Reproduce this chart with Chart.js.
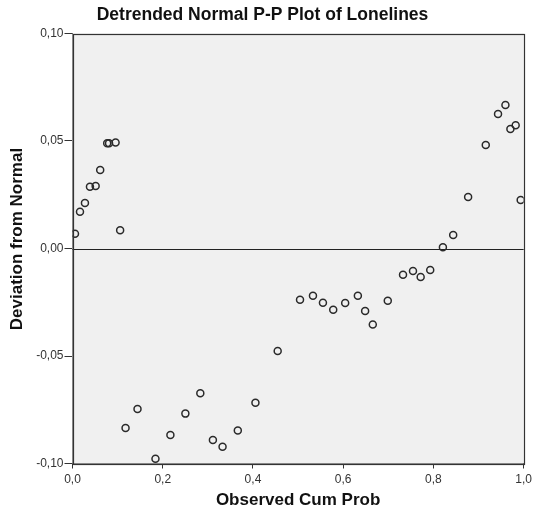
<!DOCTYPE html>
<html>
<head>
<meta charset="utf-8">
<script src="https://cdn.jsdelivr.net/npm/chart.js@4"></script>
<style>
  html, body { margin: 0; padding: 0; background: #ffffff; }
  #wrap { width: 536px; height: 512px; position: relative; }
</style>
</head>
<body>
<div id="wrap"><canvas id="c" width="536" height="512"></canvas></div>
<script>
const chartTitle = "Detrended Normal P-P Plot of Lonelines";
const xTitle = "Observed Cum Prob";
const yTitle = "Deviation from Normal";

const obsCumProb = [
  0.0055, 0.0166, 0.0276, 0.0387, 0.0513, 0.0614, 0.0769, 0.0810, 0.0955, 0.1056,
  0.1176, 0.1441, 0.1839, 0.2170, 0.2502, 0.2833, 0.3112, 0.3326, 0.3664, 0.4055,
  0.4548, 0.5043, 0.5330, 0.5551, 0.5779, 0.6044, 0.6325, 0.6486, 0.6656, 0.6988,
  0.7326, 0.7547, 0.7717, 0.7929, 0.8210, 0.8438, 0.8769, 0.9160, 0.9432, 0.9596,
  0.9706, 0.9823, 0.9934
];
const deviation = [
  0.0069, 0.0171, 0.0212, 0.0287, 0.0291, 0.0365, 0.0489, 0.0489, 0.0493, 0.0085,
  -0.0835, -0.0747, -0.0978, -0.0867, -0.0768, -0.0673, -0.0891, -0.0922, -0.0846, -0.0717,
  -0.0477, -0.0238, -0.0220, -0.0252, -0.0285, -0.0253, -0.0220, -0.0291, -0.0353, -0.0243,
  -0.0122, -0.0105, -0.0133, -0.0100, 0.0006, 0.0063, 0.0240, 0.0481, 0.0626, 0.0667,
  0.0556, 0.0573, 0.0226
];
const xTicks = [0.0, 0.2, 0.4, 0.6, 0.8, 1.0];
const yTicks = [-0.10, -0.05, 0.00, 0.05, 0.10];

const points = obsCumProb.map((x, i) => ({ x: x, y: deviation[i] }));
const FONT = 'Liberation Sans, Arial, sans-serif';

const frame = {
  id: 'frame',
  beforeDatasetsDraw(chart) {
    const { ctx, chartArea: a } = chart;
    ctx.save();
    ctx.fillStyle = '#f0f0f0';
    ctx.fillRect(a.left, a.top, a.right - a.left, a.bottom - a.top);
    const y0 = Math.round(chart.scales.y.getPixelForValue(0)) + 0.5;
    ctx.strokeStyle = '#222';
    ctx.lineWidth = 1;
    ctx.beginPath();
    ctx.moveTo(a.left, y0);
    ctx.lineTo(a.right, y0);
    ctx.stroke();
    ctx.restore();
  },
  afterDraw(chart) {
    const { ctx, chartArea: a } = chart;
    ctx.save();
    ctx.strokeStyle = '#333';
    ctx.lineWidth = 1.2;
    ctx.strokeRect(Math.round(a.left) + 0.5, Math.round(a.top) + 0.5,
                   Math.round(a.right - a.left), Math.round(a.bottom - a.top));
    // y axis title
    ctx.translate(17, 239);
    ctx.rotate(-Math.PI / 2);
    ctx.fillStyle = '#111';
    ctx.font = 'bold 17px ' + FONT;
    ctx.textAlign = 'center';
    ctx.textBaseline = 'middle';
    ctx.fillText(yTitle, 0, 0);
    ctx.restore();
  }
};

const fmt = (v, d) => v.toFixed(d).replace('.', ',');

new Chart(document.getElementById('c'), {
  type: 'scatter',
  data: {
    datasets: [{
      data: points,
      showLine: false,
      pointRadius: 3.5,
      pointHoverRadius: 3.5,
      pointBorderWidth: 1.5,
      pointBackgroundColor: 'rgba(0,0,0,0)',
      pointBorderColor: '#2a2a2a'
    }]
  },
  options: {
    responsive: false,
    animation: false,
    devicePixelRatio: 1,
    layout: { padding: { left: 0, right: 11, top: 0, bottom: 0 } },
    plugins: {
      legend: { display: false },
      tooltip: { enabled: false },
      title: {
        display: true,
        text: chartTitle,
        color: '#111',
        font: { family: FONT, size: 17.5, weight: 'bold', lineHeight: 1.2 },
        padding: { top: 4.5, bottom: 8 }
      }
    },
    scales: {
      x: {
        type: 'linear',
        min: 0, max: 1,
        afterBuildTicks(s) { s.ticks = xTicks.map(v => ({ value: v })); },
        afterFit(s) { s.height = 48.5; },
        grid: { drawOnChartArea: false, drawTicks: true, tickLength: 5, color: '#333' },
        border: { display: true, color: '#333' },
        ticks: {
          color: '#333',
          padding: 4,
          maxRotation: 0,
          font: { family: FONT, size: 12 },
          callback: v => fmt(v, 1)
        },
        title: {
          display: true, text: xTitle, color: '#111',
          font: { family: FONT, size: 17, weight: 'bold' },
          padding: { top: 0, bottom: 1 }
        }
      },
      y: {
        type: 'linear',
        min: -0.10, max: 0.10,
        afterBuildTicks(s) { s.ticks = yTicks.map(v => ({ value: v })); },
        afterFit(s) { s.width = 72.5; },
        grid: { drawOnChartArea: false, drawTicks: true, tickLength: 8, color: '#333' },
        border: { display: true, color: '#333' },
        ticks: {
          color: '#333',
          padding: 1,
          font: { family: FONT, size: 12 },
          callback: v => fmt(v, 2)
        },
        title: { display: false }
      }
    }
  },
  plugins: [frame]
});
</script>
</body>
</html>
